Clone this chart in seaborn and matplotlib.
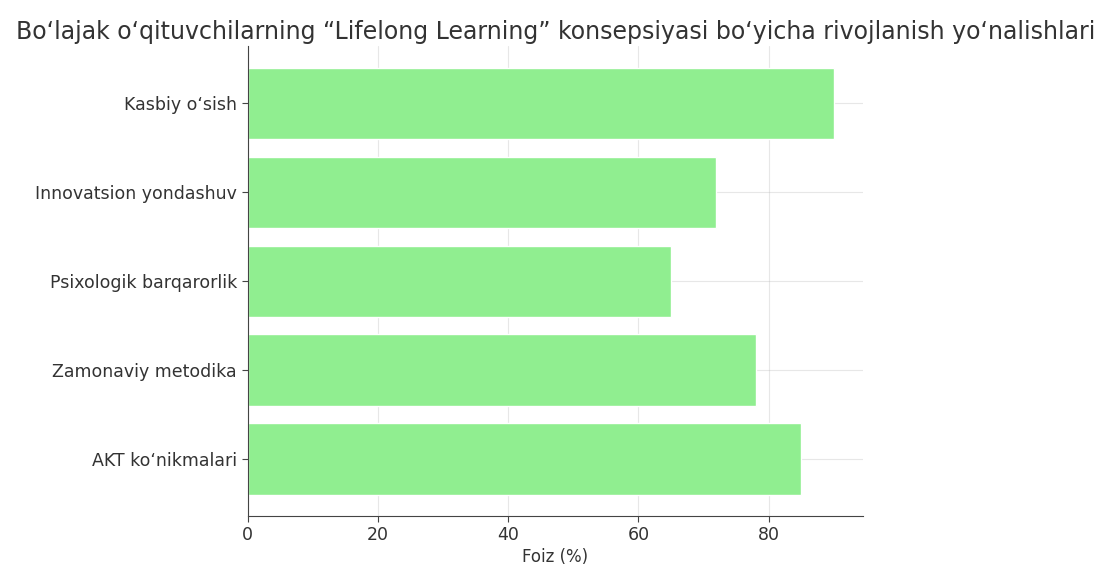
import matplotlib
matplotlib.use("Agg")
import matplotlib.pyplot as plt
import seaborn as sns
import pandas as pd

# ===============================
# Data (top to bottom as drawn)
# ===============================
categories = ["Kasbiy o\u2018sish", "Innovatsion yondashuv", "Psixologik barqarorlik",
              "Zamonaviy metodika", "AKT ko\u2018nikmalari"]
values = [90, 72, 65, 78, 85]
x_ticks = [0, 20, 40, 60, 80]

title = "Bo\u2018lajak o\u2018qituvchilarning \u201cLifelong Learning\u201d konsepsiyasi bo\u2018yicha rivojlanish yo\u2018nalishlari"

df = pd.DataFrame({"Yo'nalish": categories, "Foiz": values})

# ===============================
# Plot
# ===============================
sns.set_style("white")
plt.rcParams["font.family"] = ["DejaVu Sans"]

fig, ax = plt.subplots(figsize=(11.07, 5.65), dpi=100)
sns.barplot(data=df, y="Yo'nalish", x="Foiz", color="#90EE90", saturation=1,
            width=0.8, ax=ax, zorder=2)

ax.set_xticks(x_ticks)
ax.set_xlim(0, 94.5)
ax.set_ylim(4.64, -0.64)
# faint grid drawn over the bars
ax.grid(True, color="#bbbbbb", alpha=0.35, linewidth=0.8, zorder=3)

for s in ["top", "right"]:
    ax.spines[s].set_visible(False)
for s in ["left", "bottom"]:
    ax.spines[s].set_color("#444444")

ax.tick_params(axis="both", colors="#444444", labelcolor="#333333",
               labelsize=12.5, length=4, left=True, bottom=True)
ax.set_xlabel("Foiz (%)", fontsize=12, color="#333333", labelpad=3)
ax.set_ylabel("")
ax.set_title(title, fontsize=17, color="#333333", pad=5)

fig.subplots_adjust(left=0.2236, right=0.7796, top=0.918, bottom=0.087)
fig.savefig("out.png", dpi=100)
